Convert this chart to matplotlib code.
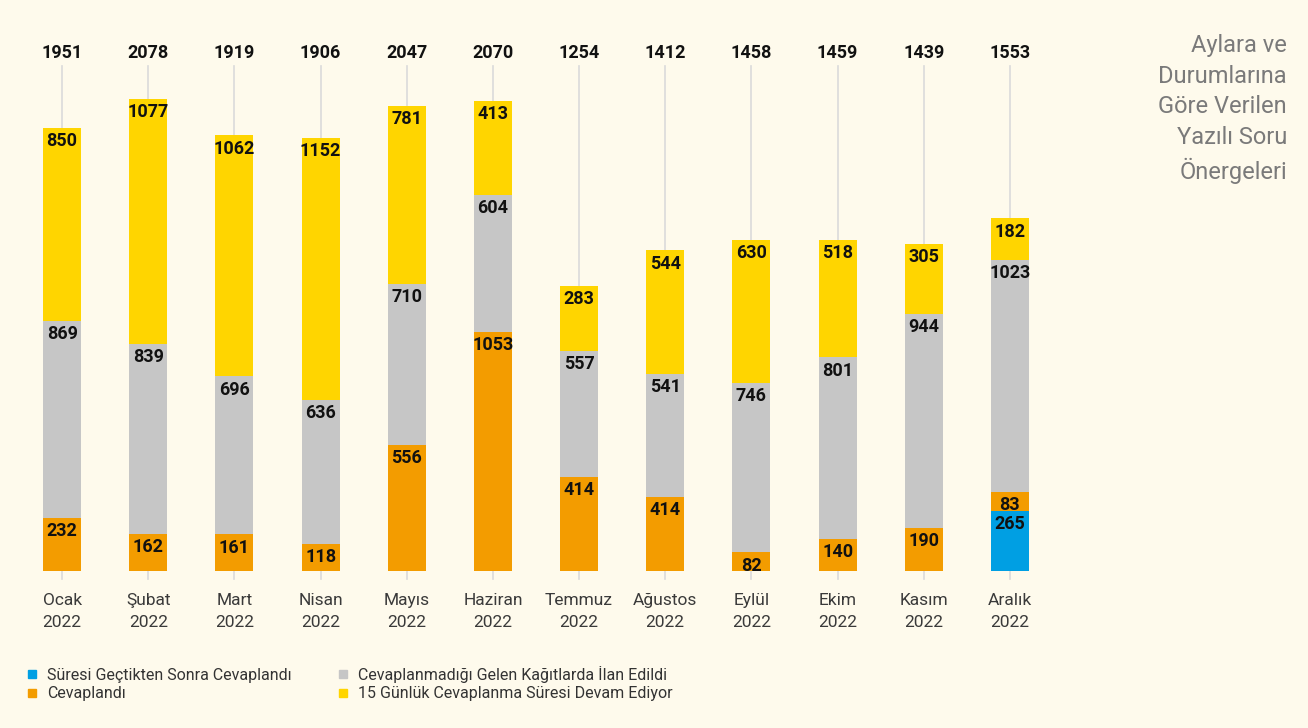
import matplotlib.pyplot as plt
from matplotlib.lines import Line2D
import numpy as np

plt.rcParams['font.family'] = ['Roboto', 'DejaVu Sans']

months = ["Ocak", "Şubat", "Mart", "Nisan", "Mayıs", "Haziran",
          "Temmuz", "Ağustos", "Eylül", "Ekim", "Kasım", "Aralık"]
year = "2022"

late = [0, 0, 0, 0, 0, 0, 0, 0, 0, 0, 0, 265]
answered = [232, 162, 161, 118, 556, 1053, 414, 327, 82, 140, 190, 83]
answered_text = ["232", "162", "161", "118", "556", "1053", "414", "414", "82", "140", "190", "83"]
announced = [869, 839, 696, 636, 710, 604, 557, 541, 746, 801, 944, 1023]
pending = [850, 1077, 1062, 1152, 781, 413, 283, 544, 630, 518, 305, 182]
totals = [1951, 2078, 1919, 1906, 2047, 2070, 1254, 1412, 1458, 1459, 1439, 1553]

series = [
    ("Süresi Geçtikten Sonra Cevaplandı", late, "#009FE3"),
    ("Cevaplandı", answered, "#F39C00"),
    ("Cevaplanmadığı Gelen Kağıtlarda İlan Edildi", announced, "#C6C6C6"),
    ("15 Günlük Cevaplanma Süresi Devam Ediyor", pending, "#FFD500"),
]
labels_text = [[str(v) for v in late], answered_text,
               [str(v) for v in announced], [str(v) for v in pending]]

bg = "#FEFAEC"
fig = plt.figure(figsize=(13.08, 7.28), dpi=100, facecolor=bg)
ax = fig.add_axes([19 / 1308, 157 / 728, 1034 / 1308, 541 / 728])
ax.set_facecolor(bg)

x = np.arange(len(months))
ax.set_xlim(-0.5, len(months) - 0.5)
ax.set_ylim(0, 2383)

# thin guide lines behind bars
for xi in x:
    ax.axvline(xi, ymin=-0.015, ymax=0.933, color="#DADADA", lw=1.2,
               zorder=0, clip_on=False)

bottom = np.zeros(len(months))
for (name, vals, color), texts in zip(series, labels_text):
    vals = np.array(vals, dtype=float)
    ax.bar(x, vals, bottom=bottom, width=0.44, color=color, zorder=2)
    for xi, b, v, t in zip(x, bottom, vals, texts):
        if v > 0:
            ax.annotate(t, (xi, b + v), xytext=(0, -3), textcoords="offset points",
                        ha="center", va="top", fontsize=13, fontweight="bold",
                        color="#111111", zorder=3)
    bottom += vals

for xi, t in zip(x, totals):
    ax.text(xi, 0.9575, str(t), transform=ax.get_xaxis_transform(),
            ha="center", va="center", fontsize=13, fontweight="bold", color="#111111")

ax.set_xticks(x)
ax.set_xticklabels([f"{m}\n{year}" for m in months], fontsize=12.5,
                   color="#3A3A3A", linespacing=1.55)
ax.tick_params(axis="x", length=0, pad=16)
ax.set_yticks([])
for s in ax.spines.values():
    s.set_visible(False)

fig.text(1287 / 1308, 1 - 34 / 728,
         "Aylara ve\nDurumlarına\nGöre Verilen\nYazılı Soru\nÖnergeleri",
         ha="right", va="top", fontsize=17, color="#7A7A7A",
         linespacing=1.42)

handles = [Line2D([], [], marker="s", ls="", markersize=6, color=c) for _, _, c in series]
fig.legend(handles, [n for n, _, _ in series], ncol=2, loc="upper left",
           bbox_to_anchor=(18 / 1308, 1 - 658 / 728), frameon=False,
           fontsize=11.5, labelcolor="#333333", handlelength=0.7,
           handletextpad=0.6, columnspacing=2.9, labelspacing=0.2,
           borderpad=0)

fig.savefig("out.png", dpi=100, facecolor=bg)
